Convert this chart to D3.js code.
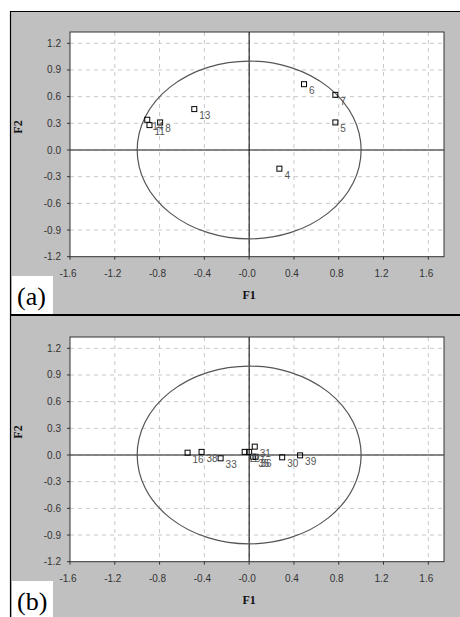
<!DOCTYPE html>
<html><head><meta charset="utf-8">
<script src="https://cdn.jsdelivr.net/npm/d3@7"></script>
<style>html,body{margin:0;padding:0;background:#fff;}svg{display:block;}</style>
</head><body>
<script>
// ---- data ----
const xTicks = [-1.6, -1.2, -0.8, -0.4, 0.0, 0.4, 0.8, 1.2, 1.6];
const xTickLabels = ["-1.6", "-1.2", "-0.8", "-0.4", "-0.0", "0.4", "0.8", "1.2", "1.6"];
const yTicks = [1.2, 0.9, 0.6, 0.3, 0.0, -0.3, -0.6, -0.9, -1.2];
const yTickLabels = ["1.2", "0.9", "0.6", "0.3", "0.0", "-0.3", "-0.6", "-0.9", "-1.2"];

const labelsA = ["6", "7", "5", "13", "4", "14", "11", "8"];
const f1A = [0.49, 0.77, 0.77, -0.49, 0.27, -0.91, -0.89, -0.795];
const f2A = [0.74, 0.62, 0.31, 0.46, -0.21, 0.34, 0.28, 0.31];

const labelsB = ["16", "38", "33", "2", "27", "31", "35", "36", "30", "39"];
const f1B = [-0.55, -0.425, -0.255, -0.04, 0.0, 0.05, 0.036, 0.057, 0.295, 0.455];
const f2B = [0.026, 0.035, -0.037, 0.035, 0.035, 0.094, -0.02, -0.02, -0.026, -0.004];

const panelLetters = ["(a)", "(b)"];

// ---- drawing ----
const W = 460, H = 617;
const SANS = "'Liberation Sans', Arial, Helvetica, sans-serif";
const SERIF = "'Liberation Serif', 'Times New Roman', serif";
const svg = d3.select("body").append("svg").attr("width", W).attr("height", H);

const x = d3.scaleLinear().domain([-1.6, 1.6]).range([70, 428.3]);
const frameLeft = 70, frameRight = 444;

function drawPanel(top, f1, f2, labels, letter, panelH) {
  const g = svg.append("g");
  g.append("rect").attr("x", 10).attr("y", top).attr("width", W - 10).attr("height", panelH).attr("fill", "#c0c0c0");
  const y = d3.scaleLinear().domain([-1.2, 1.2]).range([top + 245.7, top + 32.3]);
  const frameTop = top + 21, frameBottom = y(-1.2);
  g.append("rect").attr("x", frameLeft).attr("y", frameTop).attr("width", frameRight - frameLeft)
    .attr("height", frameBottom - frameTop).attr("fill", "#fff");
  g.selectAll(".gx").data(xTicks.filter(d => d > -1.6)).enter().append("line")
    .attr("x1", d => x(d)).attr("x2", d => x(d)).attr("y1", frameTop).attr("y2", frameBottom)
    .attr("stroke", "#c8c8c8").attr("stroke-width", 1).attr("stroke-dasharray", "4,4");
  g.selectAll(".gy").data(yTicks.filter(d => d > -1.2)).enter().append("line")
    .attr("x1", frameLeft).attr("x2", frameRight).attr("y1", d => y(d)).attr("y2", d => y(d))
    .attr("stroke", "#c8c8c8").attr("stroke-width", 1).attr("stroke-dasharray", "4,4");
  g.append("line").attr("x1", frameLeft).attr("x2", frameRight).attr("y1", y(0)).attr("y2", y(0))
    .attr("stroke", "#606060").attr("stroke-width", 1.5);
  g.append("line").attr("x1", x(0)).attr("x2", x(0)).attr("y1", frameTop).attr("y2", frameBottom)
    .attr("stroke", "#000").attr("stroke-width", 1);
  g.append("ellipse").attr("cx", x(0)).attr("cy", y(0))
    .attr("rx", x(1) - x(0)).attr("ry", y(0) - y(1))
    .attr("fill", "none").attr("stroke", "#555").attr("stroke-width", 1.2);
  g.append("rect").attr("x", frameLeft).attr("y", frameTop).attr("width", frameRight - frameLeft)
    .attr("height", frameBottom - frameTop).attr("fill", "none").attr("stroke", "#333").attr("stroke-width", 1);
  g.selectAll(".ty").data(yTicks).enter().append("line")
    .attr("x1", frameLeft - 3).attr("x2", frameLeft).attr("y1", d => y(d)).attr("y2", d => y(d))
    .attr("stroke", "#333");
  g.selectAll(".tx").data(xTicks).enter().append("line")
    .attr("x1", d => x(d)).attr("x2", d => x(d)).attr("y1", frameBottom).attr("y2", frameBottom + 3)
    .attr("stroke", "#333");
  g.selectAll(".ly").data(yTicks).enter().append("text")
    .attr("x", 61).attr("y", d => y(d) + 3.5).attr("text-anchor", "end")
    .style("font-family", SANS).attr("font-size", 10).attr("fill", "#333")
    .text((d, i) => yTickLabels[i]);
  g.selectAll(".lx").data(xTicks).enter().append("text")
    .attr("x", d => x(d) - 2).attr("y", frameBottom + 20).attr("text-anchor", "middle")
    .style("font-family", SANS).attr("font-size", 10).attr("fill", "#333")
    .text((d, i) => xTickLabels[i]);
  g.append("text").attr("x", x(0)).attr("y", top + 288).attr("text-anchor", "middle")
    .style("font-family", SERIF).attr("font-weight", "bold")
    .attr("font-size", 12).attr("fill", "#111").text("F1");
  g.append("text").attr("transform", `translate(22,${top + 116}) rotate(-90)`).attr("text-anchor", "middle")
    .style("font-family", SERIF).attr("font-weight", "bold")
    .attr("font-size", 12).attr("fill", "#111").text("F2");
  const idx = d3.range(f1.length);
  g.selectAll(".pt").data(idx).enter().append("rect")
    .attr("x", i => x(f1[i]) - 2.5).attr("y", i => y(f2[i]) - 2.5)
    .attr("width", 5).attr("height", 5).attr("fill", "none").attr("stroke", "#000").attr("stroke-width", 1);
  g.selectAll(".pl").data(idx).enter().append("text")
    .attr("x", i => x(f1[i]) + 5).attr("y", i => y(f2[i]) + 10)
    .style("font-family", SANS).attr("font-size", 10).attr("fill", "#555")
    .text(i => labels[i]);
  g.append("rect").attr("x", 12).attr("y", top + 265).attr("width", 41).attr("height", 38).attr("fill", "#fff");
  g.append("text").attr("x", 17).attr("y", top + 294)
    .style("font-family", SERIF).attr("font-size", 26).attr("fill", "#000")
    .text(letter);
}

drawPanel(11, f1A, f2A, labelsA, panelLetters[0], 304);
drawPanel(316, f1B, f2B, labelsB, panelLetters[1], 301);

svg.append("line").attr("x1", 10.5).attr("x2", 10.5).attr("y1", 11).attr("y2", H).attr("stroke", "#000").attr("stroke-width", 1.2);
svg.append("line").attr("x1", 10).attr("x2", W).attr("y1", 11.5).attr("y2", 11.5).attr("stroke", "#000").attr("stroke-width", 1.2);
svg.append("line").attr("x1", 10).attr("x2", W).attr("y1", 315).attr("y2", 315).attr("stroke", "#000").attr("stroke-width", 2.2);
</script>
</body></html>
